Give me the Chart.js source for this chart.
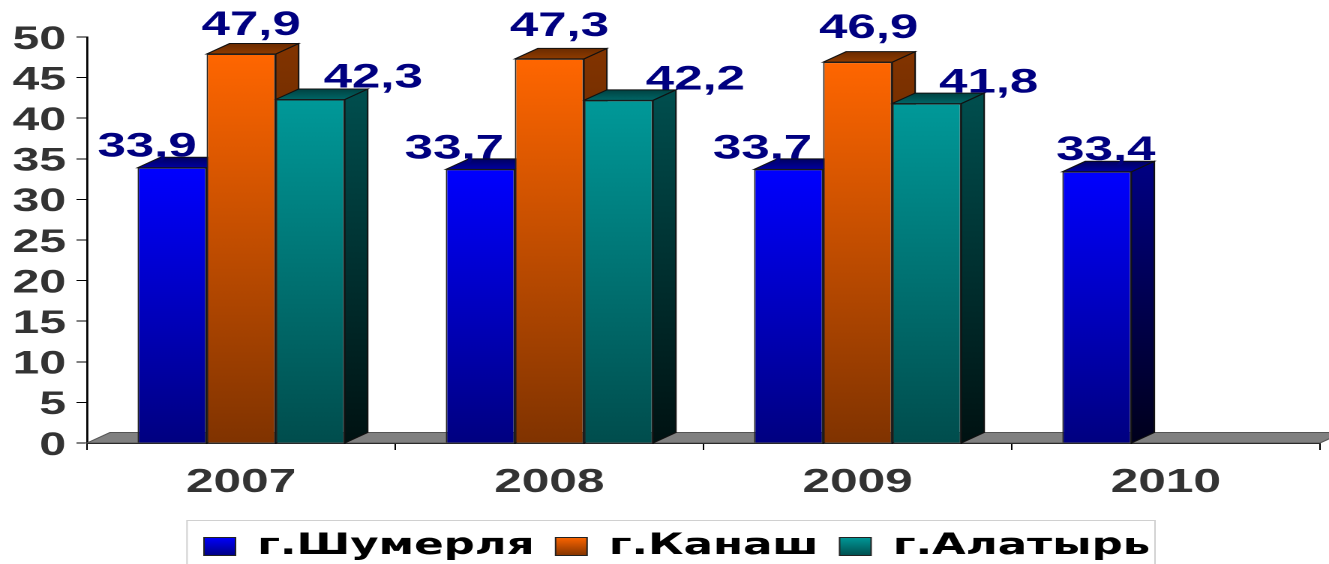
<!DOCTYPE html>
<html>
<head>
<meta charset="utf-8">
<style>
  html, body { margin: 0; padding: 0; background: #fff; overflow: hidden; }
  #chart { display: block; transform-origin: 0 0; transform: scaleX(1.5); }
</style>
<script src="https://cdn.jsdelivr.net/npm/chart.js@4"></script>
</head>
<body>
<canvas id="chart" width="886" height="564"></canvas>
<script>
const years = ['2007', '2008', '2009', '2010'];
const shumerlya = [33.9, 33.7, 33.7, 33.4];
const kanash = [47.9, 47.3, 46.9, null];
const alatyr = [42.3, 42.2, 41.8, null];
const yTicks = [0, 5, 10, 15, 20, 25, 30, 35, 40, 45, 50];

// the source picture is stretched sideways, the canvas is scaled in css to get the same look
const STRETCH = 1.5;
const DEPTH_X = 23 / STRETCH;
const DEPTH_Y = 10.5;

// colours per series: front top, front bottom, side top, side bottom, lid
const palette = [
  { front: ['#0000ff', '#000080'], side: ['#000080', '#00001c'], lid: ['#0000a0', '#000060'] },
  { front: ['#ff6600', '#803300'], side: ['#803300', '#3a1700'], lid: ['#8f3c00', '#6a2b00'] },
  { front: ['#009999', '#004d4d'], side: ['#004d4d', '#001212'], lid: ['#006666', '#004242'] }
];

// where each value label sits against the top of its bar (dx in screen px, baseline dy)
const labelDx = [[-25, -26, -26, 9], [10, 10, 11, 0], [63, 77, 62, 0]];
const labelDy = [[-11, -11, -11, -12], [-19, -23, -24, 0], [-12, -11, -11, 0]];

function vGradient(ctx, top, bottom, colors) {
  const g = ctx.createLinearGradient(0, top, 0, bottom);
  g.addColorStop(0, colors[0]);
  g.addColorStop(1, colors[1]);
  return g;
}

function frontFill(context) {
  const colors = palette[context.datasetIndex].front;
  if (context.type !== 'data' || !context.parsed) return colors[0];
  const y = context.chart.scales.y;
  const top = y.getPixelForValue(context.parsed.y);
  const bottom = y.getPixelForValue(0);
  // missing values and the first pass before layout give no usable pixels
  if (!Number.isFinite(top) || !Number.isFinite(bottom)) return colors[0];
  return vGradient(context.chart.ctx, top, bottom, colors);
}

function poly(ctx, pts, fill) {
  ctx.beginPath();
  pts.forEach((p, i) => i ? ctx.lineTo(p[0], p[1]) : ctx.moveTo(p[0], p[1]));
  ctx.closePath();
  ctx.fillStyle = fill;
  ctx.fill();
  ctx.stroke();
}

const box3d = {
  id: 'box3d',
  afterLayout(chart) {
    // legend sits higher and further in than the library would put it
    chart.legend.left = 136 - 14;
    chart.legend.right = 880;
    chart.legend.top = 518;
  },
  beforeDatasetsDraw(chart) {
    const ctx = chart.ctx;
    const a = chart.chartArea;
    ctx.save();
    ctx.lineWidth = 1;

    // floor
    ctx.strokeStyle = '#555';
    poly(ctx, [[a.left, a.bottom], [a.left + DEPTH_X, a.bottom - DEPTH_Y], [a.right + DEPTH_X, a.bottom - DEPTH_Y], [a.right, a.bottom]], '#808080');

    ctx.strokeStyle = '#111';
    chart.data.datasets.forEach((ds, i) => {
      chart.getDatasetMeta(i).data.forEach((bar, j) => {
        if (ds.data[j] == null) return;
        const left = bar.x - bar.width / 2;
        const right = bar.x + bar.width / 2;
        const c = palette[i];
        poly(ctx, [[right, bar.y], [right + DEPTH_X, bar.y - DEPTH_Y], [right + DEPTH_X, a.bottom - DEPTH_Y], [right, a.bottom]],
          vGradient(ctx, bar.y, a.bottom, c.side));
        poly(ctx, [[left, bar.y], [left + DEPTH_X, bar.y - DEPTH_Y], [right + DEPTH_X, bar.y - DEPTH_Y], [right, bar.y]],
          vGradient(ctx, bar.y, bar.y - DEPTH_Y, c.lid));
      });
    });
    ctx.restore();
  },
  afterDatasetsDraw(chart) {
    const ctx = chart.ctx;
    ctx.save();
    ctx.font = 'bold 34px "Liberation Sans", Arial, sans-serif';
    ctx.fillStyle = '#000080';
    ctx.textAlign = 'center';
    ctx.textBaseline = 'alphabetic';
    chart.data.datasets.forEach((ds, i) => {
      chart.getDatasetMeta(i).data.forEach((bar, j) => {
        if (ds.data[j] == null) return;
        const text = ds.data[j].toFixed(1).replace('.', ',');
        ctx.fillText(text, bar.x + labelDx[i][j] / STRETCH, bar.y + labelDy[i][j]);
      });
    });
    ctx.restore();
  },
  afterDraw(chart) {
    // thin frame round the legend, runs off the bottom of the picture
    const ctx = chart.ctx;
    ctx.save();
    ctx.strokeStyle = '#d0d0d0';
    ctx.lineWidth = 1;
    ctx.strokeRect(187 / STRETCH, 520.5, (1155 - 187) / STRETCH, 60);
    ctx.restore();
  }
};

new Chart(document.getElementById('chart'), {
  type: 'bar',
  data: {
    labels: years,
    datasets: [
      { label: 'г.Шумерля', data: shumerlya, backgroundColor: frontFill },
      { label: 'г.Канаш', data: kanash, backgroundColor: frontFill },
      { label: 'г.Алатырь', data: alatyr, backgroundColor: frontFill }
    ]
  },
  options: {
    responsive: false,
    animation: false,
    devicePixelRatio: 2,
    layout: { padding: { left: 0, right: 9 / STRETCH, top: 37, bottom: 0 } },
    datasets: {
      bar: {
        borderColor: '#222',
        borderWidth: 1,
        categoryPercentage: 0.672,
        barPercentage: 1
      }
    },
    plugins: {
      colors: { enabled: false },
      tooltip: { enabled: false },
      legend: {
        position: 'bottom',
        align: 'start',
        labels: {
          color: '#000',
          font: { family: '"DejaVu Sans", sans-serif', weight: 'bold', size: 29 },
          boxWidth: 21,
          boxHeight: 18,
          padding: 14,
          generateLabels(chart) {
            return chart.data.datasets.map((ds, i) => ({
              text: ds.label,
              fillStyle: vGradient(chart.ctx, 537, 556, palette[i].front),
              strokeStyle: '#222',
              lineWidth: 1,
              fontColor: '#000',
              datasetIndex: i
            }));
          }
        }
      }
    },
    scales: {
      x: {
        afterFit(scale) { scale.height = 121 - (scale.chart.legend ? scale.chart.legend.height : 0); },
        border: { color: '#000', width: 1.5 },
        grid: { drawOnChartArea: false, color: '#000', tickLength: 7, tickWidth: 1, offset: true },
        ticks: {
          color: '#333',
          padding: 13,
          maxRotation: 0,
          font: { family: '"Liberation Sans", Arial, sans-serif', weight: 'bold', size: 33 }
        }
      },
      y: {
        min: 0,
        max: 50,
        afterFit(scale) { scale.width = 87 / STRETCH; },
        afterBuildTicks(scale) { scale.ticks = yTicks.map(v => ({ value: v })); },
        border: { color: '#000', width: 1.4 },
        grid: { drawOnChartArea: false, color: '#000', tickLength: 7, tickWidth: 1 },
        ticks: {
          color: '#333',
          padding: 7,
          autoSkip: false,
          labelOffset: 3,
          font: { family: '"Liberation Sans", Arial, sans-serif', weight: 'bold', size: 32 }
        }
      }
    }
  },
  plugins: [box3d]
});
</script>
</body>
</html>
